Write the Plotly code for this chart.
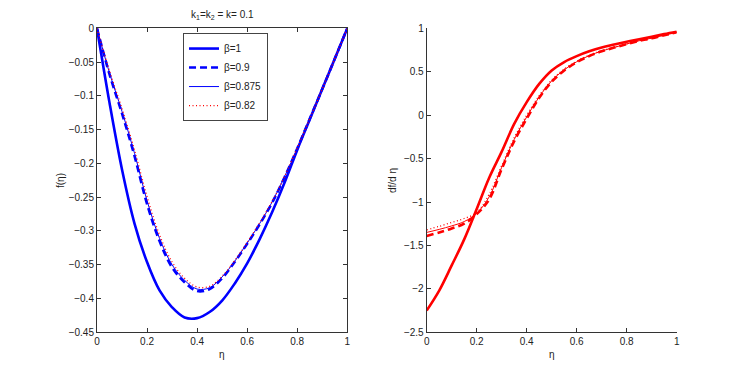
import plotly.graph_objects as go

# eta grid shared by every curve
ETA = [0.0, 0.05, 0.1, 0.15, 0.2, 0.25, 0.3, 0.35, 0.4, 0.45, 0.5,
       0.55, 0.6, 0.65, 0.7, 0.75, 0.8, 0.85, 0.9, 0.95, 1.0]

# f(eta), left panel
F_B100 = [0, -0.110, -0.209, -0.289, -0.346, -0.388, -0.413, -0.428, -0.429, -0.420, -0.403,
          -0.378, -0.348, -0.312, -0.272, -0.228, -0.180, -0.135, -0.090, -0.045, 0]
F_B090 = [0, -0.068, -0.126, -0.189, -0.260, -0.315, -0.354, -0.376, -0.389, -0.386, -0.370,
          -0.346, -0.319, -0.290, -0.258, -0.220, -0.178, -0.134, -0.090, -0.045, 0]
F_B0875 = [0, -0.066, -0.123, -0.185, -0.255, -0.311, -0.350, -0.373, -0.386, -0.384, -0.368,
           -0.345, -0.318, -0.289, -0.257, -0.219, -0.178, -0.134, -0.090, -0.045, 0]
F_B082 = [0, -0.063, -0.119, -0.180, -0.249, -0.306, -0.346, -0.370, -0.383, -0.382, -0.367,
          -0.344, -0.317, -0.288, -0.256, -0.219, -0.177, -0.134, -0.090, -0.045, 0]

# df/deta, right panel
DF_B100 = [-2.25, -2.02, -1.73, -1.43, -1.08, -0.72, -0.42, -0.10, 0.15, 0.36, 0.515,
           0.612, 0.68, 0.735, 0.779, 0.813, 0.845, 0.875, 0.903, 0.933, 0.96]
DF_B090 = [-1.39, -1.35, -1.305, -1.25, -1.14, -0.97, -0.62, -0.30, -0.04, 0.20, 0.385,
           0.515, 0.61, 0.68, 0.735, 0.778, 0.818, 0.855, 0.885, 0.92, 0.955]
DF_B0875 = [-1.35, -1.315, -1.275, -1.225, -1.13, -0.94, -0.60, -0.28, -0.02, 0.21, 0.395,
            0.522, 0.615, 0.685, 0.738, 0.78, 0.82, 0.857, 0.887, 0.921, 0.955]
DF_B082 = [-1.32, -1.28, -1.235, -1.19, -1.12, -0.91, -0.58, -0.26, 0.0, 0.225, 0.405,
           0.53, 0.62, 0.69, 0.742, 0.783, 0.822, 0.858, 0.888, 0.922, 0.955]

LABELS = ["β=1", "β=0.9", "β=0.875", "β=0.82"]

X_TICKS = [0, 0.2, 0.4, 0.6, 0.8, 1]
X_TEXT = ["0", "0.2", "0.4", "0.6", "0.8", "1"]
F_TICKS = [0, -0.05, -0.1, -0.15, -0.2, -0.25, -0.3, -0.35, -0.4, -0.45]
F_TEXT = ["0", "−0.05", "−0.1", "−0.15", "−0.2", "−0.25", "−0.3", "−0.35", "−0.4", "−0.45"]
DF_TICKS = [1, 0.5, 0, -0.5, -1, -1.5, -2, -2.5]
DF_TEXT = ["1", "0.5", "0", "−0.5", "−1", "−1.5", "−2", "−2.5"]

FONT = "Liberation Sans, Arial, Helvetica, sans-serif"
AX = "#333333"

STYLES = [
    dict(width=2.6, dash="solid"),
    dict(width=2.6, dash="7px,4px"),
    dict(width=1.0, dash="solid"),
    dict(width=1.3, dash="1px,2.5px"),
]

fig = go.Figure()

left_colors = ["#0000ff", "#0000ff", "#0000ff", "#ff0000"]
for ys, name, st, c in zip([F_B100, F_B090, F_B0875, F_B082], LABELS, STYLES, left_colors):
    fig.add_trace(go.Scatter(
        x=ETA, y=ys, mode="lines", name=name,
        line=dict(color=c, shape="spline", smoothing=1.0, **st),
        xaxis="x", yaxis="y",
    ))

for ys, name, st in zip([DF_B100, DF_B090, DF_B0875, DF_B082], LABELS, STYLES):
    fig.add_trace(go.Scatter(
        x=ETA, y=ys, mode="lines", name=name, showlegend=False,
        line=dict(color="#ff0000", shape="spline", smoothing=1.0, **st),
        xaxis="x2", yaxis="y2",
    ))

axis_common = dict(
    showgrid=False, zeroline=False, showline=True, linecolor=AX, linewidth=1,
    ticks="inside", ticklen=4, tickcolor=AX, tickfont=dict(size=10, color="#222"),
    automargin=False,
)


def label(text, x, y, angle=0):
    return dict(text=text, x=x, y=y, xref="paper", yref="paper", textangle=angle,
                xanchor="center", yanchor="middle", showarrow=False, font=dict(size=10))


# the page body adds an 8px offset, so domains are shifted to compensate
fig.update_layout(
    width=747, height=374,
    margin=dict(l=0, r=0, t=0, b=0),
    paper_bgcolor="white", plot_bgcolor="white",
    font=dict(family=FONT, size=10, color="#222"),
    xaxis=dict(domain=[0.1191, 0.4542], range=[0, 1], tickvals=X_TICKS, ticktext=X_TEXT,
               mirror="ticks", anchor="y", **axis_common),
    yaxis=dict(domain=[0.1329, 0.9457], range=[-0.45, 0], tickvals=F_TICKS, ticktext=F_TEXT,
               mirror="ticks", anchor="x", **axis_common),
    xaxis2=dict(domain=[0.5605, 0.8952], range=[0, 1], tickvals=X_TICKS, ticktext=X_TEXT,
                anchor="y2", **axis_common),
    yaxis2=dict(domain=[0.1329, 0.9457], range=[-2.5, 1], tickvals=DF_TICKS, ticktext=DF_TEXT,
                anchor="x2", **axis_common),
    legend=dict(x=0.2343, y=0.933, xanchor="left", yanchor="top",
                bgcolor="white", bordercolor="#444", borderwidth=1,
                font=dict(size=10, family=FONT, color="#222"), tracegroupgap=0),
    showlegend=True,
    annotations=[
        label("k<sub>1</sub>=k<sub>2</sub> = k= 0.1", 0.2865, 0.981),
        label("f(η)", 0.0696, 0.540, -90),
        label("η", 0.2865, 0.0722),
        label("df/d η", 0.514, 0.540, -90),
        label("η", 0.7278, 0.0722),
    ],
)

fig.write_html("out.html")
